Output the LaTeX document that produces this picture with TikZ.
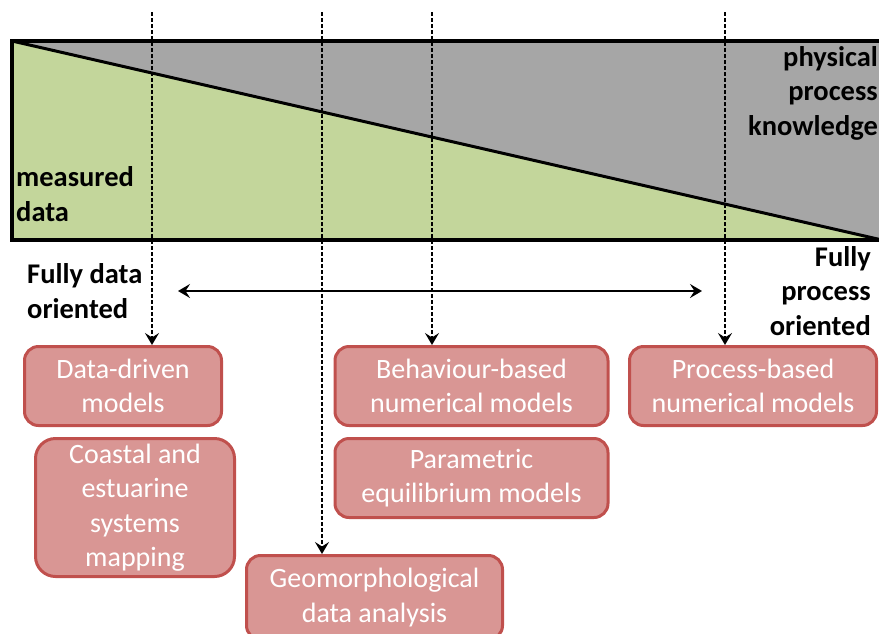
\documentclass[tikz,border=0pt]{standalone}
\usepackage{fontspec}
\setmainfont{Carlito}
\usetikzlibrary{arrows.meta}
\definecolor{knowgray}{HTML}{A6A6A6}
\definecolor{datagreen}{HTML}{C3D69B}
\definecolor{boxfill}{HTML}{D99694}
\definecolor{boxline}{HTML}{C0504D}
\tikzset{
  modelbox/.style={draw=boxline, fill=boxfill, line width=3pt, rounded corners=14pt,
    text=white, align=center, inner sep=0pt, font=\fontsize{28}{34.5}\selectfont},
  axislabel/.style={inner sep=0pt, font=\bfseries\fontsize{28.5}{34.5}\selectfont},
  guide/.style={dashed, dash pattern=on 4pt off 2pt, line width=1.6pt,
    -{Stealth[length=12pt,width=14pt,inset=4.5pt]}},
  span/.style={line width=2.3pt, {Stealth[length=12pt,width=14pt,inset=4.5pt]}-{Stealth[length=12pt,width=14pt,inset=4.5pt]}}
}
\begin{document}
\begin{tikzpicture}[x=1pt,y=-1pt]
\useasboundingbox (0,0) rectangle (879,633);
\clip (0,0) rectangle (879,633);

% wedge diagram: process knowledge above the diagonal, measured data below
\fill[knowgray] (12,41) -- (882,41) -- (882,240) -- cycle;
\fill[datagreen] (12,41) -- (882,240) -- (12,240) -- cycle;
\draw[line width=3pt] (12,41) -- (882,240);
\draw[line width=3.5pt] (882,41) -- (12,41) -- (12,240) -- (882,240);

\node[axislabel, align=left, anchor=west] (meas) at (16,194) {measured\\data};
\node[axislabel, align=right, anchor=east] (phys) at (878,93) {physical\\process\\knowledge};
\node[axislabel, align=left, anchor=west] (fdo) at (27,291) {Fully data\\oriented};
\node[axislabel, align=right, anchor=east] (fpo) at (871,291) {Fully\\process\\oriented};

% model boxes
\node[modelbox, minimum width=197pt, minimum height=79pt] (dd) at (123,386) {Data-driven\\models};
\node[modelbox, minimum width=199pt, minimum height=138pt, rounded corners=20pt] (coast) at (135,507.5) {Coastal and\\estuarine\\systems\\mapping};
\node[modelbox, minimum width=273pt, minimum height=79pt] (beh) at (471.5,386) {Behaviour-based\\numerical models};
\node[modelbox, minimum width=273pt, minimum height=79pt] (par) at (471.5,478) {Parametric\\equilibrium models};
\node[modelbox, minimum width=247pt, minimum height=79pt] (proc) at (753,386) {Process-based\\numerical models};
\node[modelbox, minimum width=256pt, minimum height=84pt] (geo) at (374.5,597.5) {Geomorphological\\data analysis};

% dashed guides from the scale down to the model families
\coordinate (g1) at (152,12);
\coordinate (g2) at (322,12);
\coordinate (g3) at (432,12);
\coordinate (g4) at (725,12);
\draw[guide] (g1) -- (g1 |- dd.north);
\draw[guide] (g2) -- (g2 |- geo.north);
\draw[guide] (g3) -- (g3 |- beh.north);
\draw[guide] (g4) -- (g4 |- proc.north);

% spectrum arrow
\coordinate (sl) at (178,291);
\coordinate (sr) at (702,291);
\draw[span] (sl) -- (sr);
\end{tikzpicture}
\end{document}
